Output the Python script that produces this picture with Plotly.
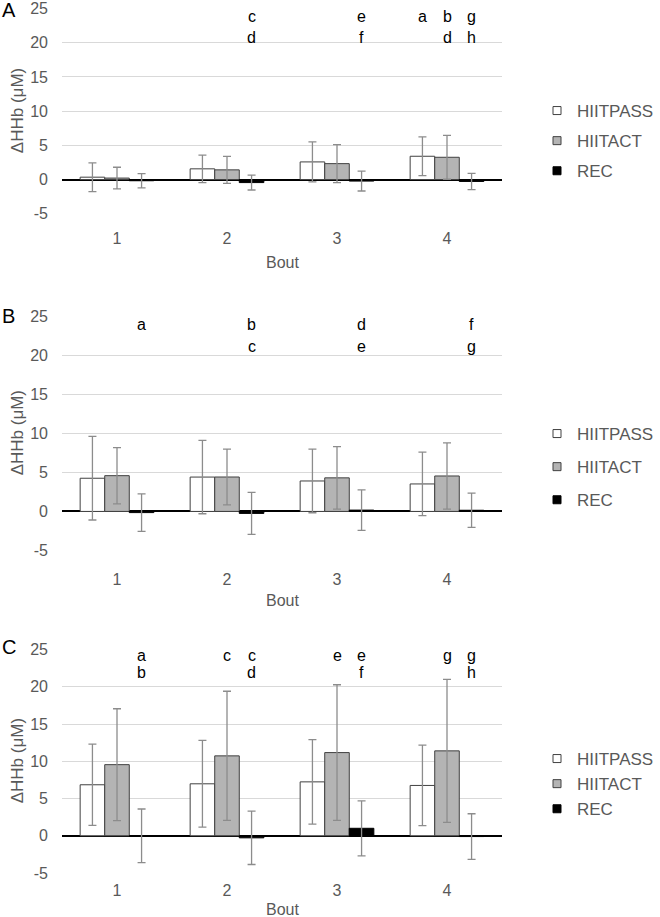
import plotly.graph_objects as go

bouts = ["1", "2", "3", "4"]
series = ["HIITPASS", "HIITACT", "REC"]
panels = ["A", "B", "C"]

# Panel A
a_pass = [0.35, 1.57, 2.58, 3.41]
a_pass_sd = [2.1, 2.01, 2.92, 2.82]
a_act = [0.22, 1.42, 2.33, 3.26]
a_act_sd = [1.58, 1.96, 2.77, 3.21]
a_rec = [-0.17, -0.44, -0.22, -0.27]
a_rec_sd = [1.05, 1.08, 1.45, 1.19]

# Panel B
b_pass = [4.25, 4.4, 3.9, 3.52]
b_pass_sd = [5.35, 4.7, 4.07, 4.07]
b_act = [4.58, 4.41, 4.3, 4.54]
b_act_sd = [3.6, 3.56, 4.0, 4.24]
b_rec = [-0.15, -0.25, 0.17, 0.15]
b_rec_sd = [2.4, 2.7, 2.6, 2.2]

# Panel C
c_pass = [6.85, 6.98, 7.24, 6.76]
c_pass_sd = [5.45, 5.82, 5.67, 5.4]
c_act = [9.55, 10.73, 11.17, 11.4]
c_act_sd = [7.5, 8.67, 9.1, 9.6]
c_rec = [0.0, -0.27, 1.01, -0.1]
c_rec_sd = [3.6, 3.58, 3.69, 3.06]

# significance letters: (bout, series, row, letter)
a_letters = [("2", "REC", 1, "c"), ("2", "REC", 2, "d"), ("3", "REC", 1, "e"), ("3", "REC", 2, "f"),
             ("4", "HIITPASS", 1, "a"), ("4", "HIITACT", 1, "b"), ("4", "HIITACT", 2, "d"),
             ("4", "REC", 1, "g"), ("4", "REC", 2, "h")]
b_letters = [("1", "REC", 1, "a"), ("2", "REC", 1, "b"), ("2", "REC", 2, "c"), ("3", "REC", 1, "d"),
             ("3", "REC", 2, "e"), ("4", "REC", 1, "f"), ("4", "REC", 2, "g")]
c_letters = [("1", "REC", 1, "a"), ("1", "REC", 2, "b"), ("2", "HIITACT", 1, "c"), ("2", "REC", 1, "c"),
             ("2", "REC", 2, "d"), ("3", "HIITACT", 1, "e"), ("3", "REC", 1, "e"), ("3", "REC", 2, "f"),
             ("4", "HIITACT", 1, "g"), ("4", "REC", 1, "g"), ("4", "REC", 2, "h")]

ytick_vals = [-5, 0, 5, 10, 15, 20, 25]
ytick_text = ["-5", "0", "5", "10", "15", "20", "25"]
y_title = "ΔHHb (μM)"
x_title = "Bout"

data = {
    "A": [(a_pass, a_pass_sd), (a_act, a_act_sd), (a_rec, a_rec_sd)],
    "B": [(b_pass, b_pass_sd), (b_act, b_act_sd), (b_rec, b_rec_sd)],
    "C": [(c_pass, c_pass_sd), (c_act, c_act_sd), (c_rec, c_rec_sd)],
}
letters = {"A": a_letters, "B": b_letters, "C": c_letters}

# ---- styling / layout (pixels of a 660 x 917 canvas) ----
W, H = 660, 917
FONT = "Liberation Sans, Arial, sans-serif"
GREY_TXT = "#595959"
fills = {"HIITPASS": "#ffffff", "HIITACT": "#b4b4b4", "REC": "#000000"}
lines = {"HIITPASS": "#404040", "HIITACT": "#404040", "REC": "#000000"}
plot_x = (62, 502)
panel_y = {"A": (8.3, 214.0), "B": (316.0, 550.7), "C": (649.3, 873.3)}
legend_top = {"A": 93, "B": 416, "C": 741}
legend_gap = {"A": 5, "B": 8, "C": 0}
bout_title_y = {"A": 262, "B": 600, "C": 909}
tick_standoff = {"A": 13, "B": 17, "C": 6}
letter_rows = {"A": (23.9, 20.8), "B": (24.0, 21.1), "C": (24.2, 21.9)}
panel_label_y = {"A": 10, "B": 316, "C": 647}

bargap = 0.33
bw = (1 - bargap) / 3
offsets = {"HIITPASS": -bw, "HIITACT": 0.0, "REC": bw}

fig = go.Figure()
layout = dict(width=W, height=H, margin=dict(l=0, r=0, t=0, b=0, autoexpand=False),
              paper_bgcolor="white", plot_bgcolor="white",
              barmode="group", bargap=bargap, bargroupgap=0,
              font=dict(family=FONT, color=GREY_TXT), annotations=[])

for i, p in enumerate(panels):
    sfx = "" if i == 0 else str(i + 1)
    xa, ya = "x" + sfx, "y" + sfx
    leg = "legend" + sfx
    for s, (vals, sd) in zip(series, data[p]):
        fig.add_trace(go.Bar(
            x=bouts, y=vals, name=s, xaxis=xa, yaxis=ya, showlegend=False,
            marker=dict(color=fills[s], line=dict(color=lines[s], width=1)),
            error_y=dict(type="data", array=sd, visible=True, color="#8c8c8c", thickness=1.3, width=4),
        ))
    for s in series:
        fig.add_trace(go.Scatter(
            x=[None], y=[None], mode="markers", name=s, xaxis=xa, yaxis=ya,
            legend=leg, legendgroup=p + s, showlegend=True,
            marker=dict(symbol="square", size=8, color=fills[s], line=dict(color=lines[s], width=1)),
        ))
    top, bot = panel_y[p]
    dom_y = [1 - bot / H, 1 - top / H]
    layout["xaxis" + sfx] = dict(
        domain=[plot_x[0] / W, plot_x[1] / W], anchor=ya, type="category",
        categoryorder="array", categoryarray=bouts, range=[-0.5, 3.5],
        showgrid=False, zeroline=False, showline=False, ticks="", automargin=False,
        ticklabelstandoff=tick_standoff[p],
        tickfont=dict(size=16, color=GREY_TXT, family=FONT),
    )
    layout["yaxis" + sfx] = dict(
        domain=dom_y, anchor=xa, range=[-5.03, 25.03], tickvals=ytick_vals, ticktext=ytick_text,
        showgrid=True, gridcolor="#d9d9d9", gridwidth=1,
        zeroline=True, zerolinecolor="#000000", zerolinewidth=1.6,
        showline=False, ticks="", ticklabelstandoff=13, automargin=False,
        tickfont=dict(size=16, color=GREY_TXT, family=FONT),
    )
    layout[leg] = dict(
        x=537 / W, xanchor="left", y=1 - legend_top[p] / H, yanchor="top",
        traceorder="grouped", tracegroupgap=legend_gap[p], bgcolor="rgba(0,0,0,0)",
        font=dict(size=17, color=GREY_TXT, family=FONT), itemwidth=30,
    )
    layout["annotations"].append(dict(
        text=y_title, textangle=-90, xref="paper", yref="paper",
        x=17 / W, y=1 - (top + bot) / 2 / H, showarrow=False,
        font=dict(size=17, color=GREY_TXT, family=FONT), xanchor="center", yanchor="middle"))
    layout["annotations"].append(dict(
        text=x_title, xref="paper", yref="paper",
        x=(plot_x[0] + plot_x[1]) / 2 / W, y=1 - bout_title_y[p] / H, showarrow=False,
        font=dict(size=16, color=GREY_TXT, family=FONT), xanchor="center", yanchor="middle"))
    layout["annotations"].append(dict(
        text=p, xref="paper", yref="paper", x=0, y=1 - panel_label_y[p] / H,
        showarrow=False, xanchor="left", yanchor="middle",
        font=dict(size=20, color="#000000", family=FONT)))
    for (b, s, row, t) in letters[p]:
        layout["annotations"].append(dict(
            text=t, xref=xa, yref=ya, x=bouts.index(b) + offsets[s], y=letter_rows[p][row - 1],
            showarrow=False, xanchor="center", yanchor="middle",
            font=dict(size=16, color="#000000", family=FONT)))

fig.update_layout(**layout)
fig.write_html("out.html", config={"displayModeBar": False},
               post_script="document.body.style.margin='0px';")
